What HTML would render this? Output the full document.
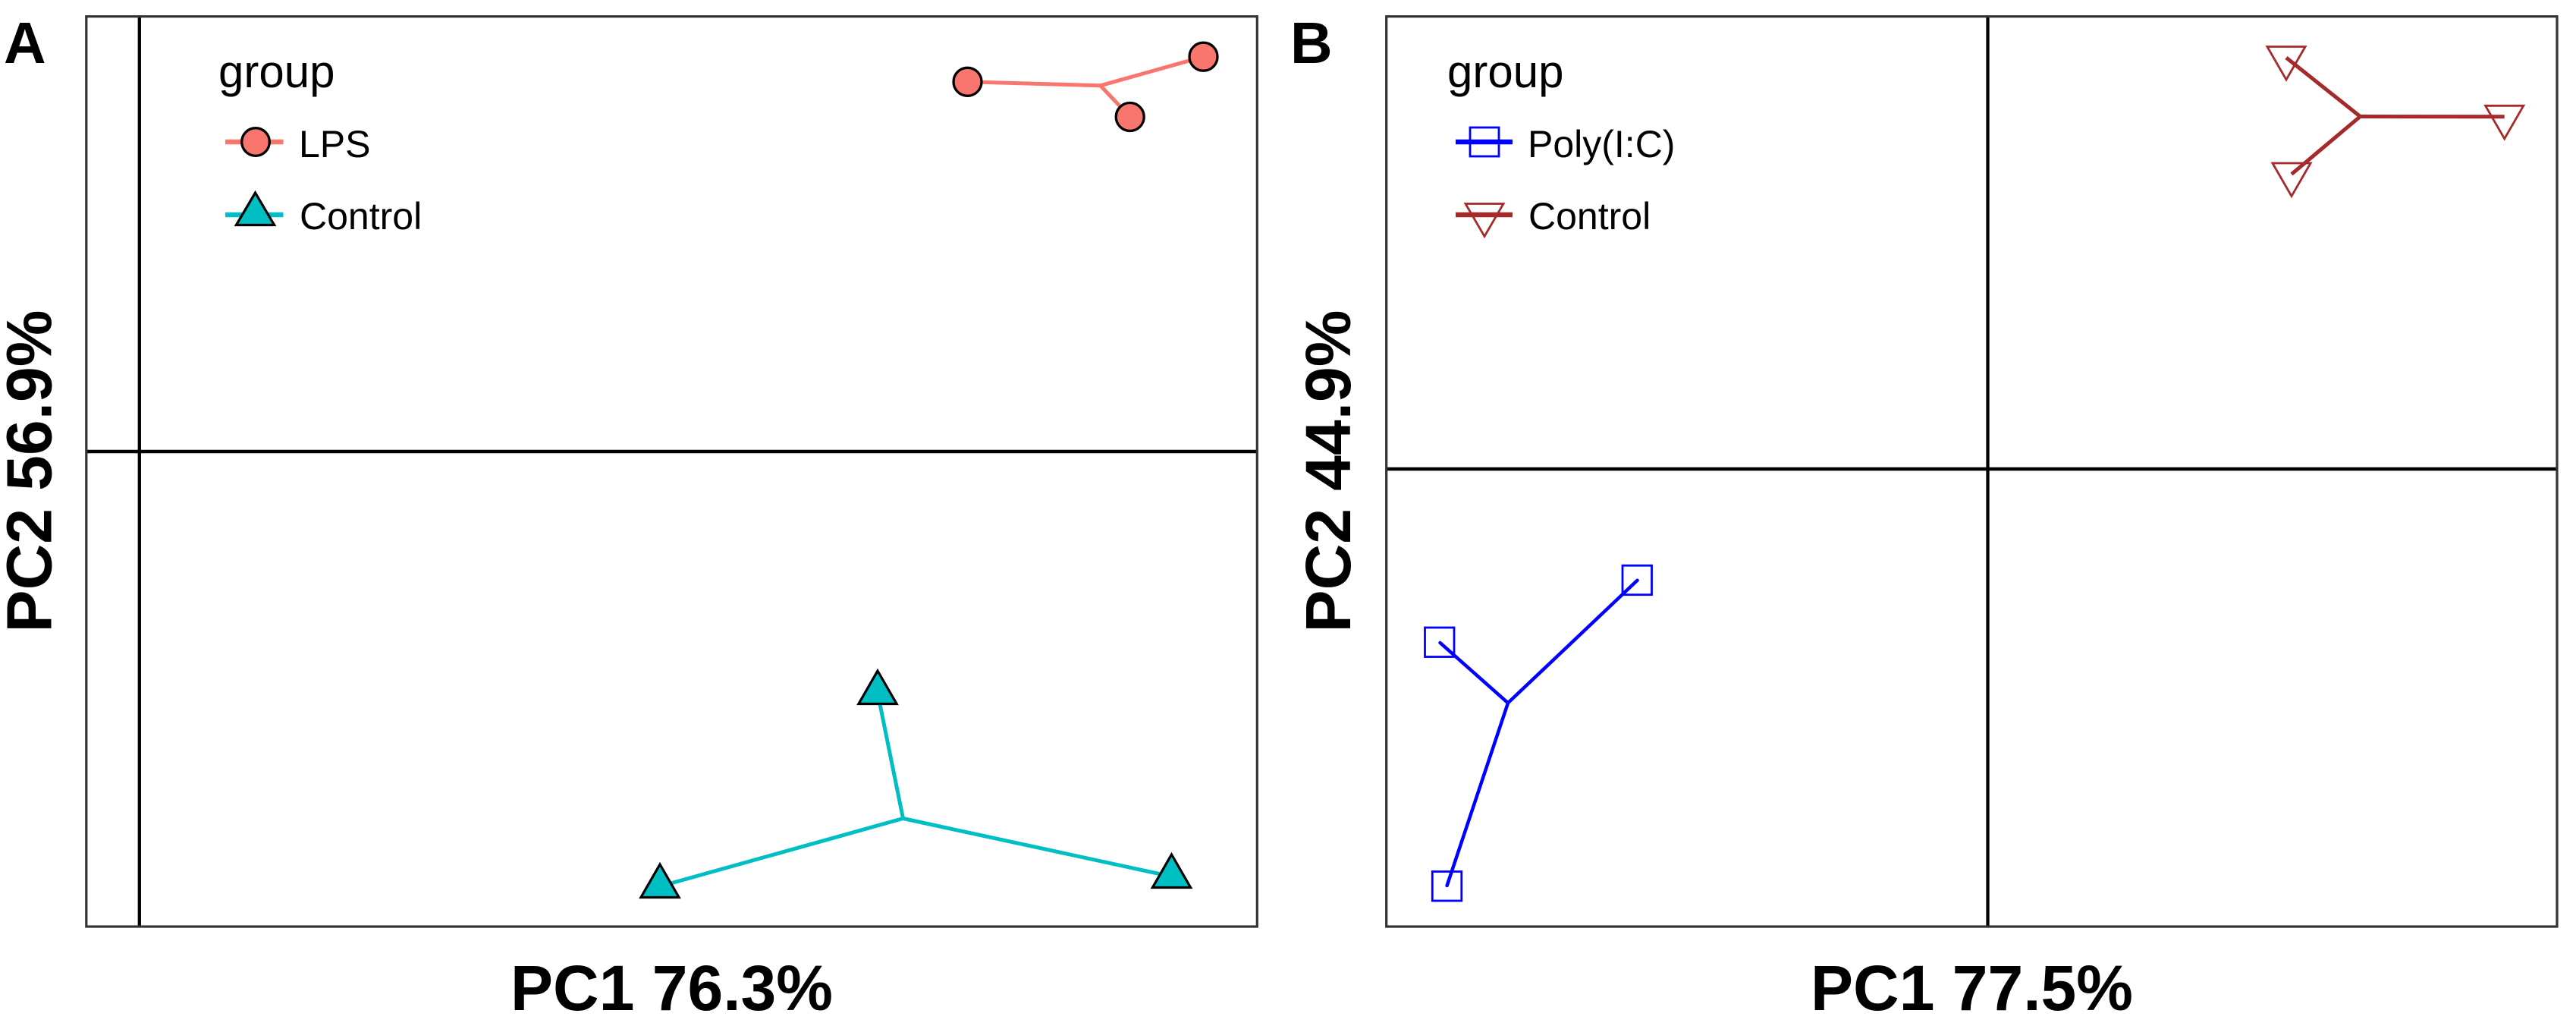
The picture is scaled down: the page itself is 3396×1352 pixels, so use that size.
<!DOCTYPE html>
<html>
<head>
<meta charset="utf-8">
<style>
html,body{margin:0;padding:0;background:#ffffff;}
svg{display:block;}
text{font-family:"Liberation Sans",Arial,sans-serif;}
</style>
</head>
<body>
<svg width="3396" height="1352" viewBox="0 0 3396 1352" xmlns="http://www.w3.org/2000/svg">
<rect x="0" y="0" width="3396" height="1352" fill="#ffffff"/>

<!-- ================= PANEL A ================= -->
<text x="5" y="83" font-size="77" font-weight="bold" fill="#000">A</text>

<!-- zero lines -->
<line x1="114" y1="595" x2="1657" y2="595" stroke="#000" stroke-width="4.5"/>
<line x1="183.8" y1="22" x2="183.8" y2="1221" stroke="#000" stroke-width="4.3"/>

<!-- LPS segments -->
<g stroke="#F8766D" stroke-width="5" stroke-linecap="butt">
<line x1="1450.7" y1="112.8" x2="1275.5" y2="107.8"/>
<line x1="1450.7" y1="112.8" x2="1489.7" y2="154"/>
<line x1="1450.7" y1="112.8" x2="1586.5" y2="74.7"/>
</g>
<!-- Control segments -->
<g stroke="#00BFC4" stroke-width="5" stroke-linecap="butt">
<line x1="1190.5" y1="1078.5" x2="1157" y2="913"/>
<line x1="1190.5" y1="1078.5" x2="870" y2="1168"/>
<line x1="1190.5" y1="1078.5" x2="1544.5" y2="1155"/>
</g>

<!-- LPS points -->
<g fill="#F8766D" stroke="#000" stroke-width="3.3">
<circle cx="1275.5" cy="107.8" r="18.5"/>
<circle cx="1489.7" cy="154" r="18.5"/>
<circle cx="1586.5" cy="74.7" r="18.5"/>
</g>
<!-- Control triangles (r=29: apex at -r, base at +r/2, half width .866r) -->
<g fill="#00BFC4" stroke="#000" stroke-width="3.2" stroke-linejoin="miter">
<polygon points="1157,884 1182.1,927.5 1131.9,927.5"/>
<polygon points="870,1139 895.1,1182.5 844.9,1182.5"/>
<polygon points="1544.5,1126 1569.6,1169.5 1519.4,1169.5"/>
</g>

<!-- panel border A -->
<rect x="113.8" y="21.7" width="1543.5" height="1199.3" fill="none" stroke="#333333" stroke-width="3.2"/>

<!-- legend A -->
<text x="288" y="115" font-size="60" fill="#000">group</text>
<line x1="297" y1="187" x2="373.5" y2="187" stroke="#F8766D" stroke-width="6.5"/>
<circle cx="337" cy="187" r="18.3" fill="#F8766D" stroke="#000" stroke-width="3.3"/>
<text x="394" y="207" font-size="50" fill="#000">LPS</text>
<line x1="297" y1="283" x2="373.5" y2="283" stroke="#00BFC4" stroke-width="6.5"/>
<polygon points="336.5,254 361.6,296.5 311.4,296.5" fill="#00BFC4" stroke="#000" stroke-width="3.2"/>
<text x="395" y="302" font-size="50" fill="#000">Control</text>

<!-- axis labels A -->
<text x="885.5" y="1331" font-size="84" font-weight="bold" text-anchor="middle" fill="#000">PC1 76.3%</text>
<text transform="translate(67.5,621) rotate(-90)" x="0" y="0" font-size="84" font-weight="bold" text-anchor="middle" fill="#000">PC2 56.9%</text>

<!-- ================= PANEL B ================= -->
<text x="1701" y="83" font-size="77" font-weight="bold" fill="#000">B</text>

<!-- zero lines -->
<line x1="1828" y1="618" x2="3371" y2="618" stroke="#000" stroke-width="4.5"/>
<line x1="2620.5" y1="22" x2="2620.5" y2="1221" stroke="#000" stroke-width="4.3"/>

<!-- Poly(I:C) segments -->
<g stroke="#0000FF" stroke-width="4.5" stroke-linecap="round">
<line x1="1988" y1="926.3" x2="1898.5" y2="847"/>
<line x1="1988" y1="926.3" x2="2158.5" y2="764.7"/>
<line x1="1988" y1="926.3" x2="1907.6" y2="1167"/>
</g>
<!-- Poly squares -->
<g fill="none" stroke="#0000FF" stroke-width="2.8">
<rect x="1878.5" y="827" width="38.5" height="38.5"/>
<rect x="2139" y="745.2" width="38.5" height="38.5"/>
<rect x="1888.3" y="1148.5" width="38.5" height="38.5"/>
</g>

<!-- Control B segments -->
<g stroke="#A52A2A" stroke-width="5" stroke-linecap="butt">
<line x1="3111.5" y1="153.5" x2="3014" y2="76"/>
<line x1="3111.5" y1="153.5" x2="3301.7" y2="153.8"/>
<line x1="3111.5" y1="153.5" x2="3021" y2="229.5"/>
</g>
<!-- Control B down triangles (base at -r/2, apex at +r) -->
<g fill="none" stroke="#A52A2A" stroke-width="2.8" stroke-linejoin="miter">
<polygon points="2988.9,61.5 3039.1,61.5 3014,105"/>
<polygon points="3276.6,139.3 3326.8,139.3 3301.7,182.8"/>
<polygon points="2995.9,215 3046.1,215 3021,258.5"/>
</g>

<!-- panel border B -->
<rect x="1827.7" y="21.7" width="1543.3" height="1199.3" fill="none" stroke="#333333" stroke-width="3.2"/>

<!-- legend B -->
<text x="1908" y="115" font-size="60" fill="#000">group</text>
<line x1="1919" y1="187" x2="1994" y2="187" stroke="#0000FF" stroke-width="6.5"/>
<rect x="1938" y="168" width="38" height="38" fill="none" stroke="#0000FF" stroke-width="2.8"/>
<text x="2014" y="207" font-size="50" fill="#000">Poly(I:C)</text>
<line x1="1919" y1="283" x2="1994" y2="283" stroke="#A52A2A" stroke-width="6.5"/>
<polygon points="1932,268.5 1982,268.5 1957,311.5" fill="none" stroke="#A52A2A" stroke-width="2.8"/>
<text x="2015" y="302" font-size="50" fill="#000">Control</text>

<!-- axis labels B -->
<text x="2599.5" y="1331" font-size="84" font-weight="bold" text-anchor="middle" fill="#000">PC1 77.5%</text>
<text transform="translate(1780,621) rotate(-90)" x="0" y="0" font-size="84" font-weight="bold" text-anchor="middle" fill="#000">PC2 44.9%</text>
</svg>
</body>
</html>
